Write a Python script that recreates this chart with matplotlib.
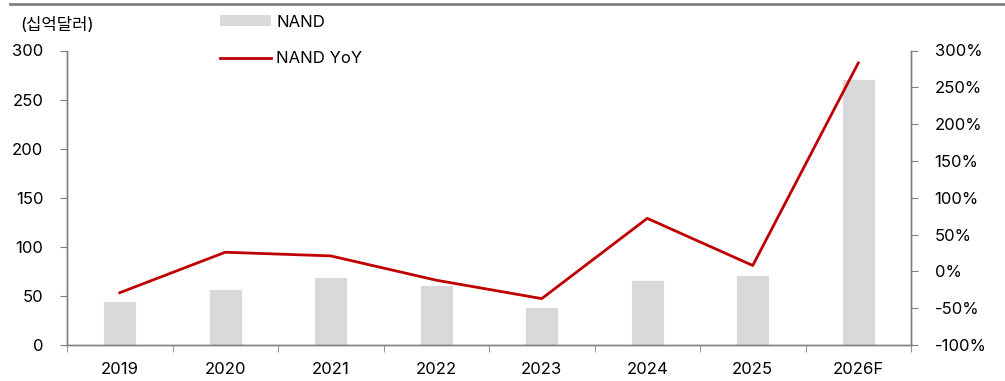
import matplotlib
matplotlib.use('Agg')
import matplotlib.pyplot as plt
from matplotlib.lines import Line2D
from matplotlib.patches import Patch
from matplotlib.ticker import FuncFormatter
import numpy as np

plt.rcParams['font.family'] = ['Inter', 'Noto Sans CJK KR', 'DejaVu Sans']

years = ['2019', '2020', '2021', '2022', '2023', '2024', '2025', '2026F']
nand = [45, 57, 69, 61, 39, 66, 71, 271]          # 십억달러
nand_yoy = [-29, 26, 21, -12, -37, 72, 8, 283]     # %

BAR_COLOR = '#d9d9d9'
LINE_COLOR = '#c00000'
AXIS_COLOR = '#808080'
FS = 12

fig = plt.figure(figsize=(10.05, 3.81), dpi=100)
ax = fig.add_axes([67 / 1005, 1 - 345 / 381, (911 - 67) / 1005, (345 - 50.5) / 381])
ax2 = ax.twinx()

x = np.arange(len(years))
ax.bar(x, nand, width=0.31, color=BAR_COLOR, edgecolor='white', linewidth=0.6, zorder=2)
ax2.plot(x, nand_yoy, color=LINE_COLOR, linewidth=2.0, zorder=3)

ax.set_xlim(-0.5, len(years) - 0.5)
ax.set_ylim(0, 300)
ax.set_yticks(range(0, 301, 50))
ax2.set_ylim(-100, 300)
ax2.set_yticks(range(-100, 301, 50))
ax2.yaxis.set_major_formatter(FuncFormatter(lambda v, _: f'{int(v)}%'))

# category labels centred, tick marks on the boundaries
ax.set_xticks(x)
ax.set_xticklabels(years)
ax.set_xticks(np.arange(-0.5, len(years), 1), minor=True)
ax.tick_params(axis='x', which='major', length=0, pad=12, labelsize=FS)
ax.tick_params(axis='x', which='minor', length=5, color=AXIS_COLOR, direction='out')
ax.tick_params(axis='y', length=5, color=AXIS_COLOR, pad=12, labelsize=FS)
ax2.tick_params(axis='y', length=5, color=AXIS_COLOR, pad=12, labelsize=FS)

for a in (ax, ax2):
    a.spines['top'].set_visible(False)
    for s in ('left', 'right', 'bottom'):
        a.spines[s].set_color(AXIS_COLOR)
        a.spines[s].set_linewidth(1.0)
ax.set_zorder(ax2.get_zorder() - 1)
ax2.patch.set_visible(False)

fig.text(20 / 1005, 1 - 25 / 381, '(십억달러)', fontsize=FS, va='center', ha='left')

# top rule
fig.add_artist(Line2D([10 / 1005, 1.0], [1 - 3.5 / 381] * 2, color=AXIS_COLOR, linewidth=2.0))

handles = [Patch(facecolor=BAR_COLOR, edgecolor='none'),
           Line2D([0], [0], color=LINE_COLOR, linewidth=2.0)]
fig.legend(handles, ['NAND', 'NAND YoY'], loc='upper left',
           bbox_to_anchor=(208 / 1005, 1 - 3 / 381), frameon=False,
           fontsize=FS, handlelength=3.1, handleheight=0.6, handletextpad=0.3,
           labelspacing=1.3, borderpad=0.2)

fig.savefig('out.png', dpi=100)
